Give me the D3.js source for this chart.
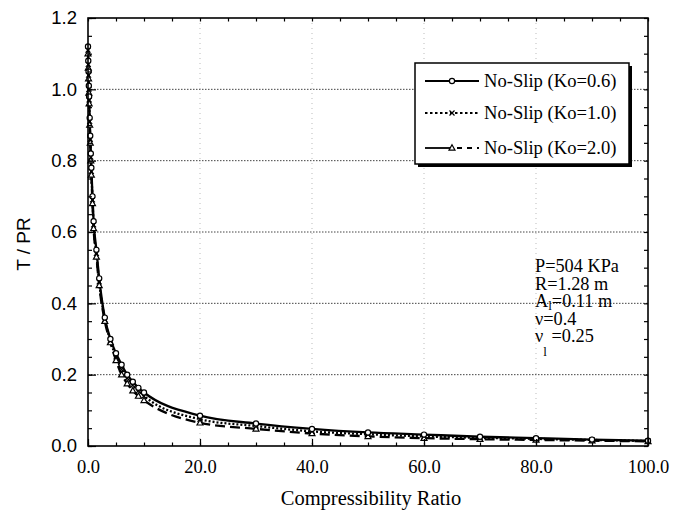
<!DOCTYPE html>
<html>
<head>
<meta charset="utf-8">
<script src="https://cdn.jsdelivr.net/npm/d3@7"></script>
<style>
  html, body { margin: 0; padding: 0; background: #fff; }
  svg { display: block; }
</style>
</head>
<body>
<svg id="chart" width="673" height="516"></svg>
<script>
// Compressibility ratio (x) shared by all three runs
const ratio = [0, 0.05, 0.1, 0.15, 0.2, 0.3, 0.4, 0.5, 0.6, 0.8, 1, 1.5, 2, 3, 4, 5, 6, 7, 8, 9, 10, 20, 30, 40, 50, 60, 70, 80, 90, 100];

// T / PR for each no-slip case
const ko06 = [1.12, 1.08, 1.05, 1.01, 0.98, 0.92, 0.87, 0.82, 0.78, 0.70, 0.63, 0.55, 0.47, 0.36, 0.30, 0.26, 0.228, 0.20, 0.18, 0.163, 0.15, 0.085, 0.063, 0.048, 0.038, 0.032, 0.026, 0.022, 0.018, 0.015];
const ko10 = [1.11, 1.07, 1.04, 1.00, 0.97, 0.91, 0.86, 0.81, 0.77, 0.69, 0.62, 0.54, 0.46, 0.355, 0.295, 0.25, 0.215, 0.19, 0.17, 0.155, 0.14, 0.075, 0.056, 0.041, 0.033, 0.027, 0.023, 0.020, 0.017, 0.014];
const ko20 = [1.10, 1.06, 1.03, 0.99, 0.96, 0.90, 0.85, 0.80, 0.76, 0.68, 0.61, 0.53, 0.45, 0.35, 0.29, 0.24, 0.20, 0.175, 0.155, 0.14, 0.128, 0.065, 0.048, 0.035, 0.027, 0.022, 0.019, 0.017, 0.015, 0.013];

const seriesNames = ["No-Slip (Ko=0.6)", "No-Slip (Ko=1.0)", "No-Slip (Ko=2.0)"];

// Axis ticks
const xMajor = [0, 20, 40, 60, 80, 100];
const xMinor = d3.range(0, 100.001, 5);
const yMajor = [0, 0.2, 0.4, 0.6, 0.8, 1.0, 1.2];
const yMinor = d3.range(0, 1.2001, 0.05);

// Case parameters
const params = ["P=504 KPa", "R=1.28 m", "A|l|=0.11 m", "ν=0.4", "ν|l| =0.25"];

const svg = d3.select("#chart");
const pLeft = 88, pRight = 648, pTop = 18, pBottom = 446;

const x = d3.scaleLinear().domain([0, 100]).range([pLeft, pRight]);
const y = d3.scaleLinear().domain([0, 1.2]).range([pBottom, pTop]);

const serif = "'Liberation Serif', 'Times New Roman', serif";
const sans = "'Liberation Sans', Arial, sans-serif";

// gridlines
const grid = svg.append("g");
grid.selectAll("line.h").data(yMajor.filter(v => v > 0 && v < 1.2)).join("line")
  .attr("x1", pLeft).attr("x2", pRight)
  .attr("y1", d => y(d)).attr("y2", d => y(d))
  .attr("stroke", "#444").attr("stroke-width", 1).attr("stroke-dasharray", "1.5,1.5");
grid.selectAll("line.v").data(xMajor.filter(v => v > 0 && v < 100)).join("line")
  .attr("y1", pTop).attr("y2", pBottom)
  .attr("x1", d => x(d)).attr("x2", d => x(d))
  .attr("stroke", "#bbb").attr("stroke-width", 1).attr("stroke-dasharray", "1,4");

// series
const styles = [
  { values: ko06, dash: null, marker: "circle" },
  { values: ko10, dash: "2,2", marker: "cross" },
  { values: ko20, dash: "10,5", marker: "triangle" }
];

const line = d3.line().x(d => x(d[0])).y(d => y(d[1])).curve(d3.curveMonotoneX);

function drawMarker(g, type, cx, cy) {
  if (type === "circle") {
    g.append("circle").attr("cx", cx).attr("cy", cy).attr("r", 2.6)
      .attr("fill", "#fff").attr("stroke", "#000").attr("stroke-width", 1.2);
  } else if (type === "cross") {
    g.append("path").attr("d", `M${cx-2.5},${cy-2.5}L${cx+2.5},${cy+2.5}M${cx-2.5},${cy+2.5}L${cx+2.5},${cy-2.5}`)
      .attr("stroke", "#000").attr("stroke-width", 1.2);
  } else {
    g.append("path").attr("d", `M${cx},${cy-3.2}L${cx+3},${cy+2.2}L${cx-3},${cy+2.2}Z`)
      .attr("fill", "#fff").attr("stroke", "#000").attr("stroke-width", 1.2);
  }
}

const plot = svg.append("g");
styles.slice().reverse().forEach(s => {
  const pts = ratio.map((r, i) => [r, s.values[i]]);
  plot.append("path").attr("d", line(pts))
    .attr("fill", "none").attr("stroke", "#000").attr("stroke-width", 2.3)
    .attr("stroke-dasharray", s.dash);
});
styles.slice().reverse().forEach(s => {
  const mg = plot.append("g");
  ratio.forEach((r, i) => drawMarker(mg, s.marker, x(r), y(s.values[i])));
});

// axes (ticks point inward)
const axisStyle = g => {
  g.select(".domain").remove();
  g.selectAll("line").attr("stroke", "#000").attr("stroke-width", 1.2);
};

svg.append("g").attr("transform", `translate(0,${pBottom})`)
  .call(d3.axisBottom(x).tickValues(xMajor).tickSize(-7).tickPadding(14).tickFormat(d3.format(".1f")))
  .call(axisStyle)
  .call(g => g.selectAll("text").attr("font-family", serif).attr("font-size", 18.5).attr("fill", "#000"));
svg.append("g").attr("transform", `translate(0,${pBottom})`)
  .call(d3.axisBottom(x).tickValues(xMinor).tickSize(-3.5).tickFormat(""))
  .call(axisStyle);
svg.append("g").attr("transform", `translate(0,${pTop})`)
  .call(d3.axisTop(x).tickValues(xMinor).tickSize(-3.5).tickFormat(""))
  .call(axisStyle);

svg.append("g").attr("transform", `translate(${pLeft},0)`)
  .call(d3.axisLeft(y).tickValues(yMajor).tickSize(-8).tickPadding(11).tickFormat(d3.format(".1f")))
  .call(axisStyle)
  .call(g => g.selectAll("text").attr("font-family", sans).attr("font-size", 18.5).attr("fill", "#000"));
svg.append("g").attr("transform", `translate(${pLeft},0)`)
  .call(d3.axisLeft(y).tickValues(yMinor).tickSize(-4).tickFormat(""))
  .call(axisStyle);
svg.append("g").attr("transform", `translate(${pRight},0)`)
  .call(d3.axisRight(y).tickValues(yMinor).tickSize(-4).tickFormat(""))
  .call(axisStyle);

// frame
svg.append("rect").attr("x", pLeft).attr("y", pTop)
  .attr("width", pRight - pLeft).attr("height", pBottom - pTop)
  .attr("fill", "none").attr("stroke", "#000").attr("stroke-width", 1.6);

// axis titles
svg.append("text").attr("x", 371).attr("y", 505).attr("text-anchor", "middle")
  .attr("font-family", serif).attr("font-size", 20.5).text("Compressibility Ratio");
svg.append("text").attr("transform", "translate(30,244) rotate(-90)").attr("text-anchor", "middle")
  .attr("font-family", sans).attr("font-size", 19).text("T / PR");

// legend
const lg = svg.append("g");
const lx = 415, ly = 63, lw = 214, lh = 101;
lg.append("rect").attr("x", lx + 3).attr("y", ly + 3).attr("width", lw).attr("height", lh).attr("fill", "#000");
lg.append("rect").attr("x", lx).attr("y", ly).attr("width", lw).attr("height", lh)
  .attr("fill", "#fff").attr("stroke", "#000").attr("stroke-width", 1.5);
const rowY = [81, 113, 148];
styles.forEach((s, i) => {
  const yy = rowY[i];
  if (i === 2) {
    lg.append("line").attr("x1", 425).attr("x2", 450).attr("y1", yy).attr("y2", yy)
      .attr("stroke", "#000").attr("stroke-width", 1.8);
    lg.append("line").attr("x1", 457).attr("x2", 479).attr("y1", yy).attr("y2", yy)
      .attr("stroke", "#000").attr("stroke-width", 1.8).attr("stroke-dasharray", "5,5");
  } else {
    lg.append("line").attr("x1", 425).attr("x2", 479).attr("y1", yy).attr("y2", yy)
      .attr("stroke", "#000").attr("stroke-width", 1.8).attr("stroke-dasharray", s.dash ? "2.5,2.5" : null);
  }
  drawMarker(lg, s.marker, 452, yy);
  lg.append("text").attr("x", 484).attr("y", yy + 6).attr("font-family", serif)
    .attr("font-size", 18.6).text(seriesNames[i]);
});

// parameter block
const pg = svg.append("g").attr("font-family", serif).attr("font-size", 18.3);
params.forEach((p, i) => {
  const t = pg.append("text").attr("x", 535).attr("y", 272 + i * 17.5);
  const parts = p.split("|");
  t.append("tspan").text(parts[0]);
  if (parts.length > 1) {
    const drop = i === 4 ? 14 : 3;
    t.append("tspan").attr("dy", drop).attr("font-size", 13).text(parts[1]);
    t.append("tspan").attr("dy", -drop).text(parts[2]);
  }
});
</script>
</body>
</html>
